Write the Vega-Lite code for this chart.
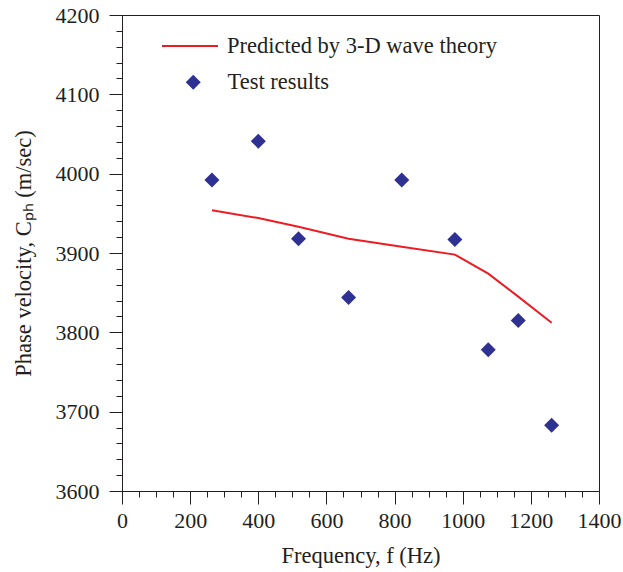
{
  "$schema": "https://vega.github.io/schema/vega-lite/v6.json",
  "width": 477,
  "height": 476,
  "autosize": {"type": "none"},
  "padding": {"left": 122, "top": 15, "right": 24, "bottom": 81},
  "background": "white",
  "config": {
    "font": "Liberation Serif",
    "view": {"stroke": "#231f20", "strokeWidth": 1},
    "axis": {
      "labelFont": "Liberation Serif",
      "titleFont": "Liberation Serif",
      "labelFontSize": 22,
      "titleFontSize": 22.5,
      "titleFontWeight": "normal",
      "labelColor": "#231f20",
      "titleColor": "#231f20",
      "domainColor": "#231f20",
      "tickColor": "#231f20",
      "domainWidth": 1,
      "tickWidth": 1,
      "grid": false
    },
    "legend": {
      "labelFont": "Liberation Serif",
      "labelFontSize": 22.5,
      "labelColor": "#231f20",
      "labelLimit": 400
    }
  },
  "data": {
    "values": [
      {"f": 264, "v": 3954, "series": "Predicted by 3-D wave theory"},
      {"f": 400, "v": 3944, "series": "Predicted by 3-D wave theory"},
      {"f": 518, "v": 3933, "series": "Predicted by 3-D wave theory"},
      {"f": 665, "v": 3918, "series": "Predicted by 3-D wave theory"},
      {"f": 821, "v": 3908, "series": "Predicted by 3-D wave theory"},
      {"f": 977, "v": 3898, "series": "Predicted by 3-D wave theory"},
      {"f": 1075, "v": 3874, "series": "Predicted by 3-D wave theory"},
      {"f": 1163, "v": 3845, "series": "Predicted by 3-D wave theory"},
      {"f": 1261, "v": 3812, "series": "Predicted by 3-D wave theory"},
      {"f": 264, "v": 3992, "series": "Test results"},
      {"f": 400, "v": 4041, "series": "Test results"},
      {"f": 518, "v": 3918, "series": "Test results"},
      {"f": 665, "v": 3844, "series": "Test results"},
      {"f": 821, "v": 3992, "series": "Test results"},
      {"f": 977, "v": 3917, "series": "Test results"},
      {"f": 1075, "v": 3778, "series": "Test results"},
      {"f": 1163, "v": 3815, "series": "Test results"},
      {"f": 1261, "v": 3683, "series": "Test results"}
    ]
  },
  "resolve": {"axis": {"x": "independent", "y": "independent"}},
  "layer": [
    {
      "transform": [{"filter": "datum.series === 'Predicted by 3-D wave theory'"}],
      "mark": {"type": "line", "strokeWidth": 2},
      "encoding": {
        "x": {
          "field": "f", "type": "quantitative",
          "scale": {"domain": [0, 1400], "nice": false, "zero": false},
          "axis": {
            "orient": "bottom",
            "values": [0, 200, 400, 600, 800, 1000, 1200, 1400],
            "format": "d",
            "tickSize": 13, "labelPadding": 6, "labelFlush": false,
            "title": "Frequency, f (Hz)", "titlePadding": 13
          }
        },
        "y": {
          "field": "v", "type": "quantitative",
          "scale": {"domain": [3600, 4200], "nice": false, "zero": false},
          "axis": {
            "orient": "left",
            "values": [3600, 3700, 3800, 3900, 4000, 4100, 4200],
            "format": "d",
            "tickSize": 13, "labelPadding": 10, "labelFlush": false,
            "title": "Phase velocity, Cₚₕ (m/sec)", "titlePadding": 20
          }
        },
        "stroke": {
          "field": "series", "type": "nominal",
          "scale": {"domain": ["Predicted by 3-D wave theory"], "range": ["#ed1c24"]},
          "legend": {
            "title": null, "orient": "none", "legendX": 39, "legendY": 2,
            "symbolType": "stroke", "symbolSize": 3136, "symbolStrokeWidth": 2,
            "labelOffset": 8, "padding": 0
          }
        }
      }
    },
    {
      "transform": [{"filter": "datum.series === 'Test results'"}],
      "mark": {"type": "point", "shape": "diamond", "filled": true, "size": 225, "opacity": 1},
      "encoding": {
        "x": {
          "field": "f", "type": "quantitative",
          "axis": {
            "orient": "bottom",
            "values": [50, 100, 150, 250, 300, 350, 450, 500, 550, 650, 700, 750, 850, 900, 950, 1050, 1100, 1150, 1250, 1300, 1350],
            "tickSize": 6, "labels": false, "domain": false, "title": null
          }
        },
        "y": {
          "field": "v", "type": "quantitative",
          "axis": {
            "orient": "left",
            "values": [3620, 3640, 3660, 3680, 3720, 3740, 3760, 3780, 3820, 3840, 3860, 3880, 3920, 3940, 3960, 3980, 4020, 4040, 4060, 4080, 4120, 4140, 4160, 4180],
            "tickSize": 6, "labels": false, "domain": false, "title": null
          }
        },
        "fill": {
          "field": "series", "type": "nominal",
          "scale": {"domain": ["Test results"], "range": ["#2e3192"]},
          "legend": {
            "title": null, "orient": "none", "legendX": 60, "legendY": 56,
            "symbolType": "diamond", "symbolSize": 225, "symbolStrokeWidth": 0,
            "labelOffset": 23, "padding": 0
          }
        }
      }
    }
  ]
}
